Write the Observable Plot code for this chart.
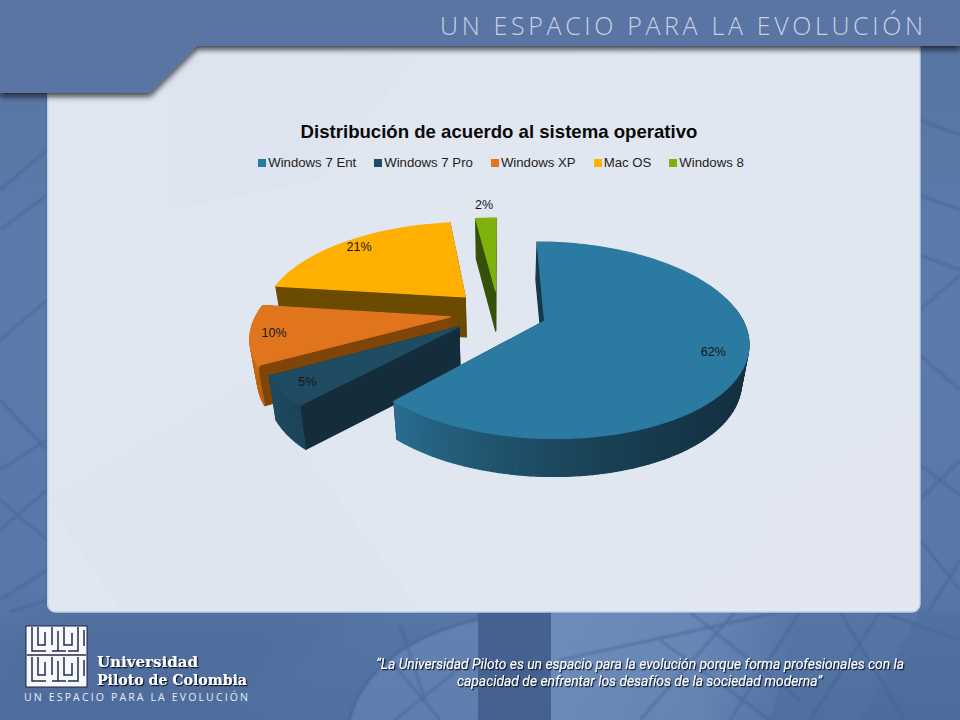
<!DOCTYPE html>
<html lang="es">
<head>
<meta charset="utf-8">
<script src="https://cdn.jsdelivr.net/npm/d3@7"></script>
<script src="https://cdn.jsdelivr.net/npm/@observablehq/plot@0.6"></script>
<style>
html,body{margin:0;padding:0;background:#5a78a8;}
#stage{position:relative;width:960px;height:720px;overflow:hidden;font-family:"Liberation Sans",Arial,sans-serif;}
#backdrop,#chart{position:absolute;left:0;top:0;}
#chart svg{display:block;background:transparent;}
#title{position:absolute;left:0;width:998px;top:121px;text-align:center;font-weight:700;font-size:18.6px;line-height:22px;color:#0a0a0a;}
#legend{position:absolute;left:0;top:155px;width:1002px;display:flex;justify-content:center;gap:18px;font-size:13.2px;line-height:16px;color:#222;}
#legend span.item{display:flex;align-items:center;}
#legend i{display:inline-block;width:8px;height:8px;margin-right:2px;}
</style>
</head>
<body>
<div id="stage">
<svg id="backdrop" width="960" height="720" viewBox="0 0 960 720">
  <defs>
    <linearGradient id="bg" x1="0" y1="0" x2="0" y2="1">
      <stop offset="0" stop-color="#56749f"/><stop offset="0.35" stop-color="#5b7bab"/><stop offset="0.8" stop-color="#5878a9"/><stop offset="1" stop-color="#4f6f9f"/>
    </linearGradient>
    <linearGradient id="panel" x1="0" y1="0" x2="1" y2="1">
      <stop offset="0" stop-color="#dfe6f0"/><stop offset="0.5" stop-color="#e1e7f1"/><stop offset="1" stop-color="#e2e7f1"/>
    </linearGradient>
    <linearGradient id="sky" x1="0" y1="0" x2="1" y2="0">
      <stop offset="0" stop-color="#7e9cc8" stop-opacity="0.6"/><stop offset="0.6" stop-color="#7e9cc8" stop-opacity="0.45"/><stop offset="1" stop-color="#7e9cc8" stop-opacity="0"/>
    </linearGradient>
    <filter id="sh" x="-5%" y="-20%" width="110%" height="150%">
      <feDropShadow dx="0" dy="3" stdDeviation="3" flood-color="#0c1018" flood-opacity="0.85"/>
    </filter>
    <filter id="soft"><feGaussianBlur stdDeviation="1.2"/></filter>
    <filter id="blurBig"><feGaussianBlur stdDeviation="14"/></filter>
    <filter id="ts" x="-5%" y="-20%" width="110%" height="150%">
      <feDropShadow dx="1.2" dy="1.2" stdDeviation="0.7" flood-color="#0b1222" flood-opacity="1"/>
    </filter>
  </defs>
  <rect width="960" height="720" fill="url(#bg)"/>
  <path d="M551,612H800L770,720H551Z" fill="url(#sky)"/>
  <path d="M350,720C362,670 410,635 478,620V720Z" fill="#7e9cc8" opacity="0.35"/>
  <path d="M47,612H360L200,720H0V640Z" fill="#4d6a99" opacity="0.55" filter="url(#blurBig)"/>
  <rect x="478" y="612" width="73" height="108" fill="#435e8c" opacity="0.85"/>
  <g fill="none" stroke="#3f5b8b" stroke-width="2" opacity="0.55" filter="url(#soft)">
    <path d="M0,190L47,150M0,230L47,195M0,340L47,300M0,400L47,450M0,470L47,440M0,500L47,540M0,530L47,490M0,600L47,570M10,612L47,600"/>
    <path d="M920,120L960,135M920,195L960,210M920,255L960,270M920,310L960,275M920,355L960,390M920,465L960,495M920,500L960,460M920,540L960,590M928,612L960,560"/>
    <path d="M560,660L780,612M640,720L735,612M770,720L660,640M690,612L800,700M800,612L730,720M810,720L880,612M905,720L840,612M880,612L960,640"/>
    <path d="M350,720C362,670 410,635 478,620M395,720L470,660M390,660L440,720M400,625L425,700"/>
  </g>
  <path d="M920,612H960V720H860Z" fill="#48669a" opacity="0.3"/>
  <path d="M47,46H920V604a8,8 0 0 1 -8,8H55a8,8 0 0 1 -8,-8Z" fill="#3c4f73" opacity="0.5" filter="url(#soft)"/>
  <path d="M47,46H920V604a8,8 0 0 1 -8,8H55a8,8 0 0 1 -8,-8Z" fill="url(#panel)"/>
  <path d="M47.7,46V604a8,8 0 0 0 8,8H912a8,8 0 0 0 8,-8V46" stroke="#bcd0ec" stroke-width="1.4" fill="none"/>
  <g fill="#d8dfeb" opacity="0.14">
    <path d="M170,60L420,50L320,180L170,210Z"/>
    <path d="M47,500L250,380L420,610L120,610Z"/>
  </g>
  <path d="M0,0H960V46H197L150,93H0Z" fill="#5a75a3" filter="url(#sh)"/>
  <text x="440" y="35" font-family="Open Sans" font-weight="300" font-size="25" fill="#c6d1e2" textLength="483" lengthAdjust="spacing">UN ESPACIO PARA LA EVOLUCIÓN</text>
  <g>
    <rect x="26" y="626" width="61" height="61" fill="#f7f8fb" stroke="#1a2540" stroke-width="1"/>
    <g fill="none" stroke="#222c47" stroke-width="1.5">
      <path d="M32,627V651H46M38,627V645H45V632M52,627V645M58,631V651M52,651H66M64,627V645H72V633M78,627V651H68M84,630V646"/>
      <path d="M32,657V681H46M38,657V675H45V662M52,657V675M58,661V681M52,681H66M64,657V675H72V663M78,657V681H68M84,660V676"/>
      <path d="M27,655H86"/>
    </g>
    <g filter="url(#ts)" fill="#fff" font-family="DejaVu Serif, DejaVu Sans" font-weight="700" font-size="14.5">
      <text x="97" y="667" textLength="101" lengthAdjust="spacingAndGlyphs">Universidad</text>
      <text x="97" y="685" textLength="150" lengthAdjust="spacingAndGlyphs">Piloto de Colombia</text>
    </g>
    <text x="24" y="701" font-family="Open Sans" font-size="10.5" fill="#e6ecf5" textLength="224" lengthAdjust="spacing">UN ESPACIO PARA LA EVOLUCIÓN</text>
  </g>
  <g filter="url(#ts)" fill="#fff" font-family="Roboto" font-style="italic" font-size="14">
    <text x="376" y="669" textLength="528" lengthAdjust="spacingAndGlyphs">“La Universidad Piloto es un espacio para la evolución porque forma profesionales con la</text>
    <text x="457" y="686" textLength="365" lengthAdjust="spacingAndGlyphs">capacidad de enfrentar los desafíos de la sociedad moderna”</text>
  </g>
</svg>
<div id="chart"></div>
<div id="title">Distribución de acuerdo al sistema operativo</div>
<div id="legend"></div>
</div>
<script>
// Data
const categories = ["Windows 7 Ent", "Windows 7 Pro", "Windows XP", "Mac OS", "Windows 8"];
const values = [62, 5, 10, 21, 2];
const labels = ["62%", "5%", "10%", "21%", "2%"];

// Styles per slice
const topColors = ["#2b7aa1", "#1f4c62", "#e0751e", "#ffb000", "#7fb20b"];
const wallColors = ["#14384c", "#152d3a", "#7f4408", "#6a4b00", "#36500a"];
const rimStops = [
  ["#16465f", "#13303f", "#132f3e", "#133040", "#1a4459", "#2a6d90"],
  ["#1c4458", "#1f4a60"],
  ["#b9600f", "#cf6c19"],
  ["#6a4b00", "#6a4b00"],
  ["#36500a", "#36500a"]
];
const radii = [0.96, 0.92, 0.95, 1, 1];
const heights = [38, 44, 40, 40, 40];
const labelRadii = [0.81, 0.8, 0.84, 0.886, 1.23];
const paintOrder = [4, 3, 2, 1, 0];

// Perspective view of the pie
const view = {cx: 498, cy: 312, A: 203, B: 95, p: 0.2, shrink: 0.03, explode: 0.24};
const project = (u, v, z = 0) => {
  const w = 1 + view.p * v;
  const x = view.cx + (view.A * u / w) * (1 - view.shrink * (z ? 1 : 0));
  const y = view.cy - view.B * v / w + z;
  return {x, y};
};

const slices = d3.pie().sort(null)(values);
const polygons = [];
let pid = 0;
const addPolygon = (pts, fill, sw) => {
  const id = pid++;
  pts.forEach(p => polygons.push({id, x: p.x, y: p.y, fill}));
};
const offset = i => {
  const m = (slices[i].startAngle + slices[i].endAngle) / 2;
  return [view.explode * Math.sin(m), view.explode * Math.cos(m)];
};
const world = (i, a, r) => {
  const [ou, ov] = offset(i);
  return [ou + r * Math.sin(a), ov + r * Math.cos(a)];
};

for (const i of paintOrder) {
  const {startAngle: a0, endAngle: a1} = slices[i];
  const R = radii[i], H = heights[i];
  const apex = world(i, 0, 0);
  for (const a of [a0, a1]) {
    const o = world(i, a, R);
    addPolygon([project(...apex), project(...o), project(...o, H), project(...apex, H)], wallColors[i]);
  }
  const n = Math.max(2, Math.ceil((a1 - a0) / (Math.PI / 120)));
  const angles = d3.range(n + 1).map(k => a0 + (a1 - a0) * k / n);
  const ramp = d3.interpolateRgbBasis(rimStops[i]);
  for (let k = 0; k < n; k++) {
    const mid = (angles[k] + angles[k + 1]) / 2;
    if (Math.cos(mid) > 0.12) continue;
    const p = world(i, angles[k], R), q = world(i, angles[k + 1], R);
    addPolygon([project(...p), project(...q), project(...q, H), project(...p, H)], ramp((k + 0.5) / n));
  }
  addPolygon([project(...apex), ...angles.map(a => project(...world(i, a, R)))], topColors[i]);
}

const labelRows = slices.map((s, i) => {
  const pos = project(...world(i, (s.startAngle + s.endAngle) / 2, labelRadii[i]));
  return {...pos, text: labels[i]};
});

const chart = Plot.plot({
  width: 960, height: 720, margin: 0,
  x: {domain: [0, 960], range: [0, 960], axis: null},
  y: {domain: [0, 720], range: [0, 720], axis: null},
  color: {type: "identity"},
  style: {background: "transparent"},
  marks: [
    Plot.line(polygons, {x: "x", y: "y", z: "id", fill: "fill", stroke: "fill", strokeWidth: 1.2, curve: "linear-closed"}),
    Plot.text(labelRows, {x: "x", y: "y", text: "text", fill: "#151515", fontSize: 12.5, fontFamily: "Liberation Sans, Arial, sans-serif"})
  ]
});
document.getElementById("chart").append(chart);

const legend = document.getElementById("legend");
categories.forEach((c, i) => {
  const item = document.createElement("span");
  item.className = "item";
  const sw = document.createElement("i");
  sw.style.background = topColors[i];
  item.append(sw, document.createTextNode(c));
  legend.append(item);
});
</script>
</body>
</html>
